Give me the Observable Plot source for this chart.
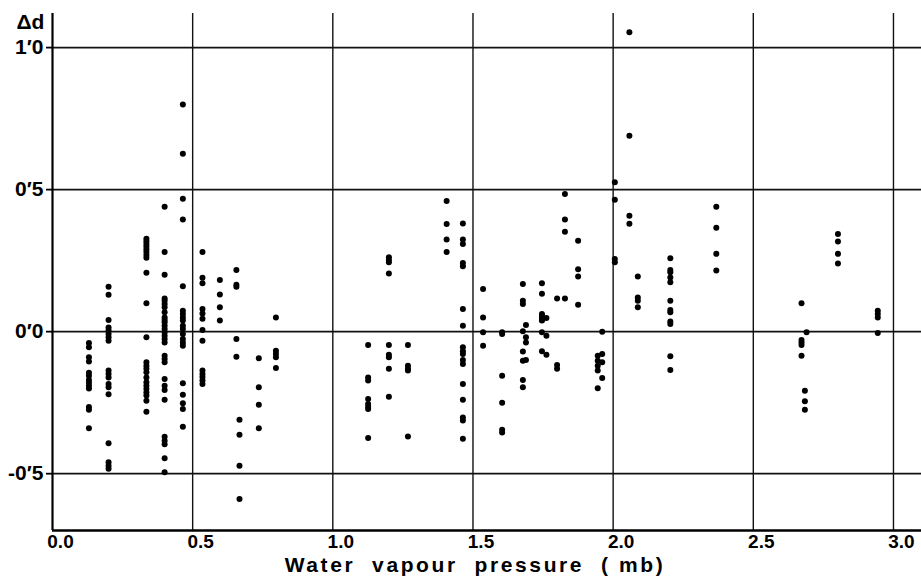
<!DOCTYPE html>
<html><head><meta charset="utf-8">
<script src="https://cdn.jsdelivr.net/npm/d3@7"></script>
<script src="https://cdn.jsdelivr.net/npm/@observablehq/plot@0.6"></script>
<style>
body{margin:0;background:#fff}
#chart svg{font-family:"Liberation Sans",Arial,sans-serif}
</style>
</head><body><div id="chart"></div>
<script>
// Column positions (water vapour pressure, mb) and the Δd values measured at each
const colX = [0.13, 0.20, 0.335, 0.40, 0.465, 0.535, 0.597, 0.656, 0.667, 0.736, 0.797,
  1.126, 1.20, 1.268, 1.406, 1.464, 1.536, 1.604, 1.678, 1.689, 1.746, 1.762, 1.80, 1.828,
  1.875, 1.945, 1.961, 2.006, 2.058, 2.088, 2.204, 2.368, 2.672, 2.69, 2.684, 2.802, 2.944];
const colY = [
  [-0.04, -0.055, -0.09, -0.105, -0.145, -0.155, -0.17, -0.18, -0.19, -0.2, -0.265, -0.275, -0.34],
  [0.158, 0.13, 0.041, 0.015, 0.004, -0.008, -0.02, -0.032, -0.137, -0.149, -0.161, -0.184, -0.196, -0.22, -0.393, -0.46, -0.472, -0.483],
  [0.327, 0.318, 0.309, 0.30, 0.29, 0.28, 0.27, 0.26, 0.207, 0.10, -0.02, -0.108, -0.12, -0.131, -0.143, -0.161, -0.178, -0.19, -0.202, -0.214, -0.225, -0.243, -0.282],
  [0.44, 0.28, 0.20, 0.117, 0.109, 0.097, 0.086, 0.068, 0.05, 0.041, 0.033, 0.021, 0.009, -0.002, -0.014, -0.026, -0.038, -0.085, -0.096, -0.108, -0.167, -0.19, -0.205, -0.24, -0.37, -0.384, -0.396, -0.446, -0.495],
  [0.80, 0.626, 0.468, 0.395, 0.16, 0.074, 0.062, 0.05, 0.039, 0.021, 0.009, -0.008, -0.026, -0.038, -0.05, -0.182, -0.222, -0.252, -0.272, -0.335],
  [0.28, 0.19, 0.17, 0.08, 0.064, 0.045, 0.006, -0.032, -0.137, -0.149, -0.16, -0.172, -0.184],
  [0.182, 0.131, 0.086, 0.039],
  [0.217, 0.165, 0.158, -0.026, -0.088],
  [-0.31, -0.363, -0.472, -0.589],
  [-0.094, -0.196, -0.257, -0.34],
  [0.05, -0.067, -0.079, -0.09, -0.128],
  [-0.047, -0.161, -0.172, -0.237, -0.255, -0.264, -0.272, -0.374],
  [0.262, 0.252, 0.244, 0.205, -0.047, -0.081, -0.09, -0.131, -0.229],
  [-0.047, -0.12, -0.131, -0.137, -0.369],
  [0.46, 0.379, 0.324, 0.28],
  [0.381, 0.324, 0.309, 0.242, 0.23, 0.08, 0.021, -0.055, -0.069, -0.079, -0.1, -0.114, -0.184, -0.24, -0.302, -0.313, -0.377],
  [0.15, 0.05, -0.002, -0.05],
  [-0.002, -0.008, -0.155, -0.25, -0.345, -0.355],
  [0.168, 0.109, 0.097, 0.001, -0.07, -0.102, -0.17, -0.196],
  [0.023, -0.02, -0.038, -0.1],
  [0.17, 0.133, 0.062, 0.056, 0.05, 0.041, 0.039, -0.002, -0.069],
  [0.048, -0.014, -0.081],
  [0.117, -0.117, -0.131],
  [0.485, 0.395, 0.352, 0.117],
  [0.32, 0.22, 0.194, 0.095],
  [-0.085, -0.102, -0.12, -0.137, -0.199],
  [0.0, -0.079, -0.108, -0.163],
  [0.526, 0.464, 0.256, 0.244],
  [1.054, 0.69, 0.408, 0.38],
  [0.194, 0.12, 0.109, 0.086],
  [0.258, 0.217, 0.209, 0.191, 0.174, 0.109, 0.076, 0.068, 0.036, 0.027, -0.087, -0.135],
  [0.44, 0.366, 0.274, 0.215],
  [0.10, -0.029, -0.038, -0.047, -0.085],
  [-0.002],
  [-0.208, -0.245, -0.275],
  [0.344, 0.317, 0.274, 0.24],
  [0.074, 0.062, 0.05, -0.005]
];
const xTicks = [0, 0.5, 1.0, 1.5, 2.0, 2.5, 3.0];
const xTickLabels = ["0.0", "0.5", "1.0", "1.5", "2.0", "2.5", "3.0"];
const yTicks = [-0.5, 0, 0.5, 1.0];
const yTickLabels = ["-0\u20325", "0\u20320", "0\u20325", "1\u20320"];
const yLabel = "Δd";
const xLabel = "Water  vapour  pressure  ( mb)";

const data = colX.flatMap((x, i) => colY[i].map(y => ({x, y})));

const plot = Plot.plot({
  width: 921, height: 581,
  marginLeft: 52, marginRight: 0, marginTop: 13, marginBottom: 51,
  style: {fontFamily: "'Liberation Sans', Arial, sans-serif", fontSize: "19px", fontWeight: "bold", color: "#000", background: "#fff"},
  x: {domain: [0, 3.1]},
  y: {domain: [-0.7, 1.12]},
  marks: [
    Plot.ruleX(xTicks.slice(1), {stroke: "#111", strokeWidth: 1.4}),
    Plot.ruleY(yTicks, {stroke: "#111", strokeWidth: 1.8}),
    Plot.ruleX([0], {stroke: "#000", strokeWidth: 2.2}),
    Plot.ruleY([-0.7], {stroke: "#000", strokeWidth: 2.4}),
    Plot.axisX({ticks: xTicks, tickFormat: d => xTickLabels[xTicks.indexOf(d)], tickSize: 0, tickPadding: 4, dx: 8, label: null, fontSize: 19}),
    Plot.axisY({ticks: yTicks, tickFormat: d => yTickLabels[yTicks.indexOf(d)], tickSize: 6, tickPadding: 3, strokeWidth: 1.8, label: null, fontSize: 21}),
    Plot.dot(data, {x: "x", y: "y", r: 3, fill: "#000", stroke: "none"}),
    Plot.text([yLabel], {frameAnchor: "top-left", dx: -36, dy: 1, fontSize: 21, fontWeight: "bold", fill: "#000"}),
    Plot.text([xLabel], {frameAnchor: "bottom", dx: -12, dy: 41, fontSize: 21, fontWeight: "bold", fill: "#000"})
  ]
});
d3.select(plot).selectAll("text")
  .filter(function() { return this.textContent === xLabel; })
  .style("letter-spacing", "2.6px");
document.getElementById("chart").appendChild(plot);
</script>
</body></html>
